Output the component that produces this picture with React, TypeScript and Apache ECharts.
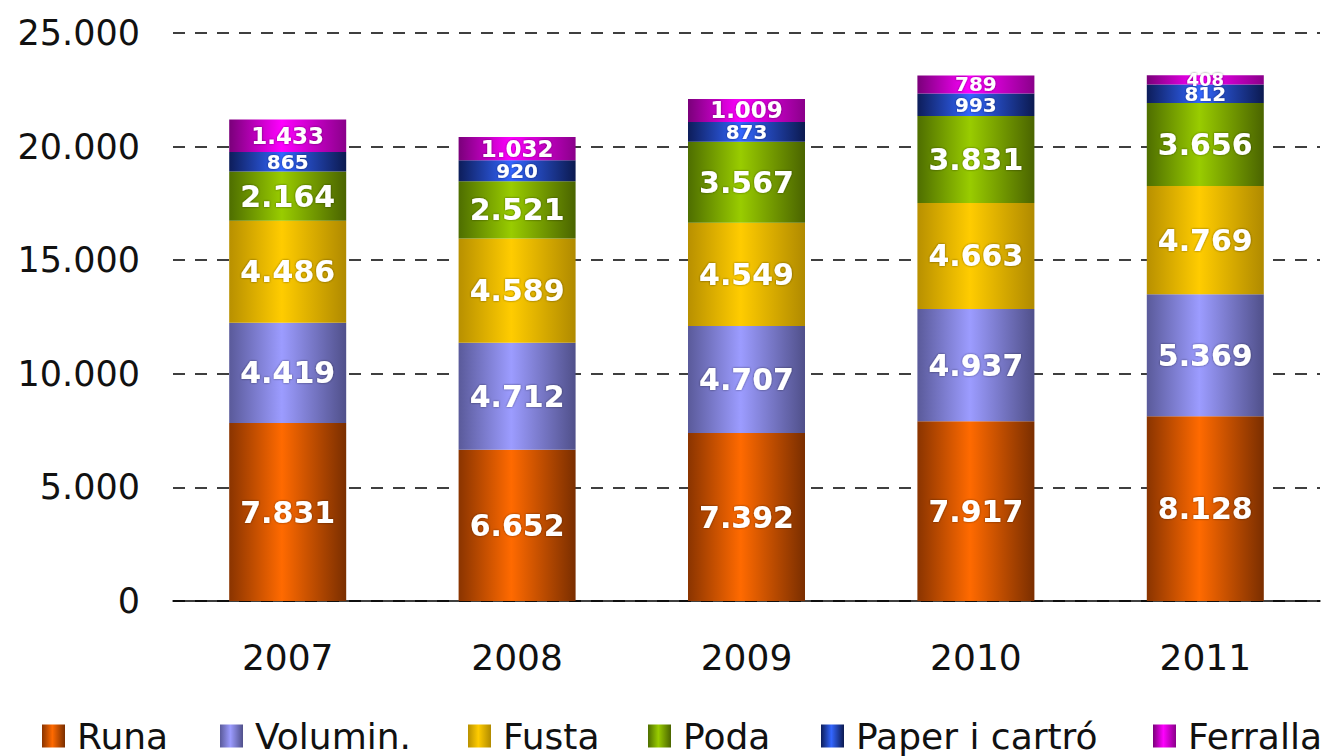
import React, { useEffect, useRef } from "react";
import * as echarts from "echarts";

const years = ["2007", "2008", "2009", "2010", "2011"];
const runa = [7831, 6652, 7392, 7917, 8128];
const volumin = [4419, 4712, 4707, 4937, 5369];
const fusta = [4486, 4589, 4549, 4663, 4769];
const poda = [2164, 2521, 3567, 3831, 3656];
const paper = [865, 920, 873, 993, 812];
const ferralla = [1433, 1032, 1009, 789, 408];
const yTicks = [0, 5000, 10000, 15000, 20000, 25000];

const seriesDefs = [
  { name: "Runa", data: runa, edge: "#8a3400", mid: "#ff6a00", edge2: "#7a2e00" },
  { name: "Volumin.", data: volumin, edge: "#5a5a9a", mid: "#9c9cff", edge2: "#50508a" },
  { name: "Fusta", data: fusta, edge: "#b89000", mid: "#ffcc00", edge2: "#b08a00" },
  { name: "Poda", data: poda, edge: "#4e6e00", mid: "#99cc00", edge2: "#4a6400" },
  { name: "Paper i cartró", data: paper, edge: "#0d1d5a", mid: "#3366ff", edge2: "#0c1a50" },
  { name: "Ferralla", data: ferralla, edge: "#7a007a", mid: "#ff00ff", edge2: "#8a008a" },
];
const legendLefts = [42, 220, 468, 648, 821, 1153];

const fmt = (v: number) => String(v).replace(/\B(?=(\d{3})+(?!\d))/g, ".");
const labelSize = (v: number) => (v >= 2000 ? 30 : v >= 1000 ? 23 : v >= 600 ? 20 : 18);

export default function App() {
  const ref = useRef<HTMLDivElement>(null);
  useEffect(() => {
    if (!ref.current) return;
    const chart = echarts.init(ref.current, undefined, { renderer: "svg" });
    chart.setOption({
      animation: false,
      backgroundColor: "#ffffff",
      textStyle: { fontFamily: "DejaVu Sans" },
      grid: { left: 173, right: 6, top: 33, bottom: 155, containLabel: false },
      legend: seriesDefs.map((s, i) => ({
        top: 718,
        left: legendLefts[i],
        padding: 0,
        itemWidth: 23,
        itemHeight: 23,
        icon: "rect",
        textStyle: { fontSize: 36, color: "#111", fontFamily: "DejaVu Sans", padding: [0, 0, 0, 7] },
        data: [s.name],
      })),
      xAxis: {
        type: "category",
        data: years,
        axisLine: { lineStyle: { color: "#000", width: 1.5 } },
        axisTick: { length: 12, lineStyle: { color: "#000", width: 1.5 } },
        axisLabel: { fontSize: 36, color: "#111", margin: 38 },
      },
      yAxis: {
        type: "value",
        min: yTicks[0],
        max: yTicks[yTicks.length - 1],
        interval: 5000,
        axisLine: { show: false },
        axisTick: { show: false },
        axisLabel: { fontSize: 35, color: "#111", margin: 33, formatter: (v: number) => fmt(v) },
        splitLine: { lineStyle: { color: "#000", width: 1.5, type: [12, 10] } },
      },
      series: seriesDefs.map((s) => ({
        name: s.name,
        type: "bar",
        stack: "total",
        barWidth: 117,
        data: s.data.map((v) => ({
          value: v,
          label: { fontSize: labelSize(v), lineHeight: Math.round(labelSize(v) * 0.85) },
        })),
        itemStyle: {
          color: new echarts.graphic.LinearGradient(0, 0, 1, 0, [
            { offset: 0, color: s.edge },
            { offset: 0.45, color: s.mid },
            { offset: 1, color: s.edge2 },
          ]),
        },
        label: {
          show: true,
          position: "inside",
          color: "#fff",
          fontWeight: "bold",
          fontFamily: "DejaVu Sans",
          textShadowColor: "rgba(0,0,0,0.5)",
          textShadowBlur: 2,
          formatter: (p: any) => fmt(p.value),
        },
      })),
    });
    return () => chart.dispose();
  }, []);
  return (
    <div
      ref={ref}
      style={{ position: "absolute", left: 0, top: 0, width: 1326, height: 756 }}
    />
  );
}
